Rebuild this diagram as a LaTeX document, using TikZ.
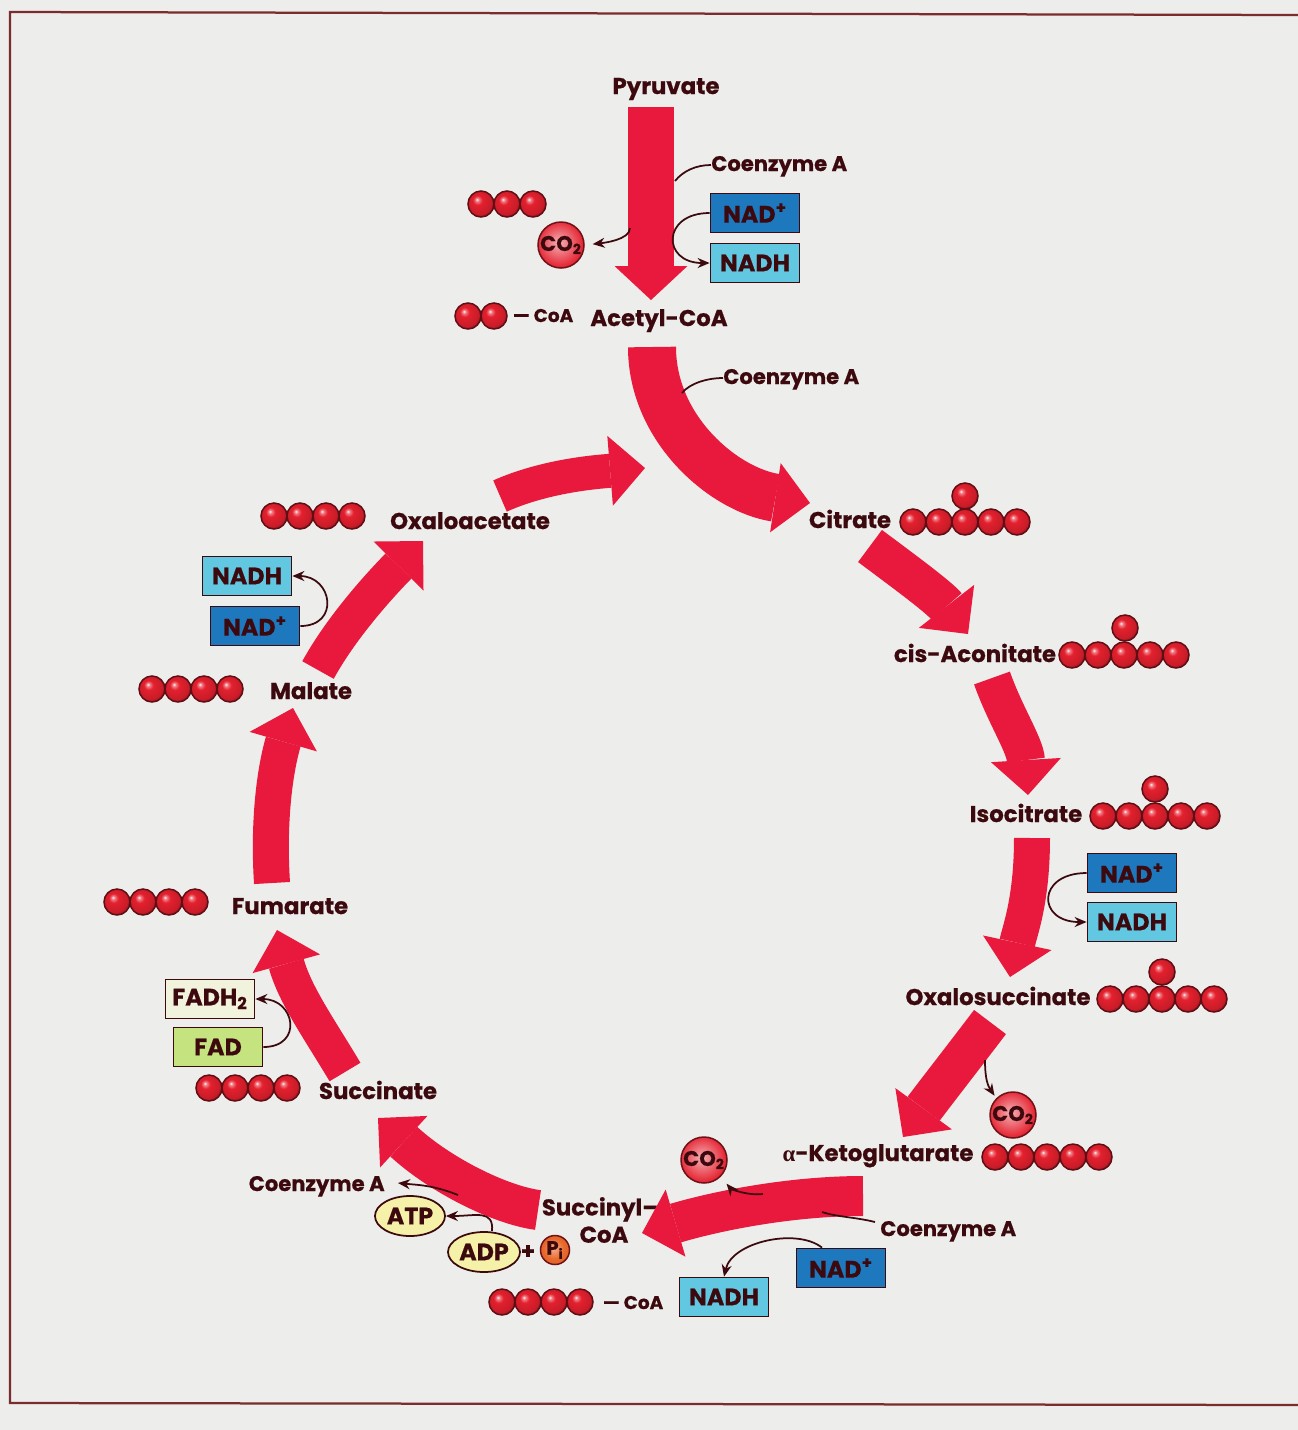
\documentclass[tikz,border=0pt]{standalone}
\usepackage{fontspec}
\setmainfont{Poppins}[BoldFeatures={FakeBold=0.6}]
\newfontfamily\greekfont{Liberation Serif}
\usetikzlibrary{arrows.meta, shapes.geometric, shadings}
\definecolor{krebsbg}{HTML}{EDEDEB}
\definecolor{krebsframe}{HTML}{7B2C2C}
\definecolor{krebsred}{HTML}{E8193C}
\definecolor{krebsink}{HTML}{3C0A0E}
\definecolor{krebsball}{HTML}{E4202E}
\definecolor{nadblue}{HTML}{1E78BE}
\definecolor{nadhcyan}{HTML}{62C8E2}
\definecolor{fadpale}{HTML}{F2F3DC}
\definecolor{fadgreen}{HTML}{C5E37F}
\definecolor{atpyellow}{HTML}{F6F1A8}
\definecolor{piorange}{HTML}{E8682A}

% glossy carbon atoms and gas bubbles
\pgfdeclareradialshading{atomshade}{\pgfqpoint{-8bp}{9bp}}{%
  color(0bp)=(white); color(3bp)=(krebsball!55!white); color(9bp)=(krebsball);
  color(24bp)=(krebsball!88!black); color(30bp)=(krebsball!65!black); color(50bp)=(krebsball!65!black)}
\pgfdeclareradialshading{gasshade}{\pgfqpoint{-3bp}{3bp}}{%
  color(0bp)=(krebsball!35!white); color(14bp)=(krebsball!70!white);
  color(26bp)=(krebsball); color(50bp)=(krebsball)}
\pgfdeclareradialshading{phosshade}{\pgfqpoint{-3bp}{3bp}}{%
  color(0bp)=(piorange!55!white); color(18bp)=(piorange); color(50bp)=(piorange!85!black)}

\tikzset{
  metabase/.style={font=\fontsize{13}{15.5}\selectfont\bfseries, text=krebsink, inner sep=0pt},
  metab/.style={metabase, text height=1.5ex, text depth=.25ex},
  cofac/.style={metab, font=\fontsize{12}{14}\selectfont\bfseries},
  carrier/.style={draw=krebsink, line width=0.35mm, font=\fontsize{13.5}{16}\selectfont\bfseries,
    text=krebsink, minimum width=17.8mm, minimum height=7.8mm, inner sep=0pt},
  nadbox/.style={carrier, fill=nadblue},
  nadhbox/.style={carrier, fill=nadhcyan},
  nrg/.style={ellipse, draw=krebsink, line width=0.35mm, fill=atpyellow, inner sep=0pt,
    minimum width=14.4mm, minimum height=8mm, font=\fontsize{13.5}{16}\selectfont\bfseries, text=krebsink},
  gas/.style={circle, minimum size=9.2mm, inner sep=0pt, shading=gasshade,
    draw=krebsink!70!krebsball, line width=0.3mm, font=\fontsize{12}{14}\selectfont\bfseries, text=krebsink},
  atom/.style={shading=atomshade, draw=krebsink!80!krebsball, line width=0.3mm},
  flow/.style={draw=krebsred, line width=8mm,
    -{Triangle[length=7mm, width=14mm, line width=0pt]}},
  link/.style={draw=krebsink, line width=0.35mm, -{Stealth[length=2.4mm, width=2mm]}},
  tie/.style={draw=krebsink, line width=0.35mm},
}

\begin{document}
\begin{tikzpicture}[x=0.2mm, y=-0.2mm]
  \fill[krebsbg] (0,0) rectangle (1298,1430);
  \useasboundingbox (0,0) rectangle (1298,1430);
  \draw[krebsframe, line width=0.45mm] (1298,15) -- (10,12) -- (10,1403) -- (1298,1405);

  % metabolites round the cycle
  \node[metab] (pyr) at (666,88) {Pyruvate};
  \node[metab] (acoa) at (659,320) {Acetyl-CoA};
  \node[metab] (cit) at (850,522) {Citrate};
  \node[metab] (cisa) at (975,656) {cis-Aconitate};
  \node[metab] (isoc) at (1026,816) {Isocitrate};
  \node[metab] (oxs) at (998,999) {Oxalosuccinate};
  \node[metab] (akg) at (878,1155) {{\greekfont\bfseries α}-Ketoglutarate};
  \node[metabase, align=center] (sccoa) at (600,1220) {Succinyl–\\\hspace*{1.6mm}CoA};
  \node[metab] (succ) at (378,1093) {Succinate};
  \node[metab] (fum) at (290,908) {Fumarate};
  \node[metab] (mal) at (311,693) {Malate};
  \node[metab] (oxa) at (470,523) {Oxaloacetate};
  \coordinate (join) at (645,468);

  % cofactors
  \node[cofac, anchor=west] (coa1) at (711,165) {Coenzyme A};
  \node[cofac, anchor=west] (coa2) at (723,378) {Coenzyme A};
  \node[cofac, anchor=west] (coa3) at (880,1230) {Coenzyme A};
  \node[cofac, anchor=east] (coa4) at (385,1185) {Coenzyme A};
  \node[cofac, font=\fontsize{10.5}{13}\selectfont\bfseries] (tag1) at (543,316) {— CoA};
  \node[cofac, font=\fontsize{10.5}{13}\selectfont\bfseries] (tag2) at (633,1303) {— CoA};
  \node[nadbox] (nad1) at (755,213) {NAD\textsuperscript{+}};
  \node[nadhbox] (nadh1) at (755,263) {NADH};
  \node[nadbox] (nad2) at (1132,873) {NAD\textsuperscript{+}};
  \node[nadhbox] (nadh2) at (1132,922) {NADH};
  \node[nadbox] (nad3) at (841,1268) {NAD\textsuperscript{+}};
  \node[nadhbox] (nadh3) at (724,1297) {NADH};
  \node[nadhbox] (nadh4) at (247,576) {NADH};
  \node[nadbox] (nad4) at (255,626) {NAD\textsuperscript{+}};
  \node[carrier, fill=fadpale] (fadh) at (210,999) {FADH\textsubscript{2}};
  \node[carrier, fill=fadgreen] (fad) at (218,1047) {FAD};
  \node[nrg, minimum width=14mm] (atp) at (410,1216) {ATP};
  \node[nrg] (adp) at (484,1252) {ADP};
  \node[metab] (plus) at (528,1253) {+};
  \node[gas, minimum size=5.8mm, shading=phosshade, font=\fontsize{11}{13}\selectfont\bfseries] (pi) at (555,1250) {P\textsubscript{i}};
  \node[gas] (co2a) at (561,245) {CO\textsubscript{2}};
  \node[gas] (co2b) at (1013,1115) {CO\textsubscript{2}};
  \node[gas] (co2c) at (704,1160) {CO\textsubscript{2}};

  % carbon skeletons
  \foreach \bx/\by/\n in {481/204/3, 468/316/2, 913/522/5, 1072/655/5, 1103/816/5, 1110/999/5,
      995/1157/5, 502/1302/4, 209/1088/4, 117/902/4, 152/689/4, 274/516/4}
    \foreach \i in {1,...,\n}
      \draw[atom] ({\bx+26*(\i-1)},\by) circle[radius=2.6mm];
  \foreach \bx/\by in {965/496, 1125/628, 1155/789, 1162/972}
    \draw[atom] (\bx,\by) circle[radius=2.6mm];

  % main flux
  \draw[flow, line width=9.2mm, -{Triangle[length=6.8mm, width=14.6mm, line width=0pt]}]
    ([shift={(-15,19)}]pyr.center) -- ([shift={(-8,-20)}]acoa.center);
  \draw[flow, line width=9.6mm] ([shift={(-7,27)}]acoa.center)
    .. controls +(0,83) and +(-85,-13) .. ([shift={(-40,-19)}]cit.center);
  \draw[flow] ([shift={(20,24)}]cit.center)
    .. controls +(35,26) and +(-28,-36) .. ([shift={(-7,-22)}]cisa.center);
  \draw[flow, line width=7.6mm] ([shift={(17,22)}]cisa.center)
    .. controls +(13,37) and +(-3,-50) .. ([shift={(2,-21)}]isoc.center);
  \draw[flow, line width=7.2mm] ([shift={(6,22)}]isoc.center)
    .. controls +(0,62) and +(10,-47) .. ([shift={(12,-22)}]oxs.center);
  \draw[flow] ([shift={(-8,23)}]oxs.center)
    .. controls +(-25,33) and +(27,-37) .. ([shift={(25,-18)}]akg.center);
  \draw[flow] ([shift={(-15,41)}]akg.center)
    .. controls +(-70,0) and +(78,-23) .. ([shift={(42,13)}]sccoa.center);
  \draw[flow] ([shift={(-62,-10)}]sccoa.center)
    .. controls +(-38,-5) and +(62,57) .. ([shift={(0,25)}]succ.center);
  \draw[flow, line width=7.2mm] ([shift={(-33,-21)}]succ.center)
    .. controls +(-25,-42) and +(18,65) .. ([shift={(-13,22)}]fum.center);
  \draw[flow, line width=7.2mm] ([shift={(-18,-25)}]fum.center)
    .. controls +(-4,-63) and +(-18,62) .. ([shift={(-18,15)}]mal.center);
  \draw[flow, line width=7.2mm] ([shift={(7,-23)}]mal.center)
    .. controls +(22,-40) and +(-48,49) .. ([shift={(-47,18)}]oxa.center);
  \draw[flow, line width=6.8mm] ([shift={(30,-27)}]oxa.center)
    .. controls +(45,-20) and +(-50,4) .. (join);

  % side reactions
  \draw[tie] (coa1.west) .. controls +(-15,0) and +(8,-10) .. ([shift={(9,93)}]pyr.center);
  \draw[link] (nad1.west) .. controls +(-48,0) and +(-48,0) .. (nadh1.west);
  \draw[link, shorten >=1.6mm] ([shift={(-29,-92)}]acoa.center)
    .. controls +(0,12) and +(18,-2) .. (co2a.east);
  \draw[tie] (coa2.west) .. controls +(-15,0) and +(8,-10) .. ([shift={(23,73)}]acoa.center);
  \draw[link] (nad2.west) .. controls +(-50,0) and +(-50,0) .. (nadh2.west);
  \draw[link, shorten >=0.6mm] ([shift={(-13,61)}]oxs.center)
    .. controls +(0,20) and +(-8,-12) .. (co2b.north west);
  \draw[link, shorten >=1.8mm] ([shift={(-115,39)}]akg.center)
    .. controls +(-15,2) and +(10,12) .. (co2c.south east);
  \draw[tie] ([shift={(-5,-8)}]coa3.west) .. controls +(-20,-5) and +(15,5) .. ([shift={(-56,57)}]akg.center);
  \draw[link] ([shift={(-19,0)}]nad3.north) .. controls +(-25,-20) and +(8,-35) .. (nadh3.north);
  \draw[link] ([shift={(8,0)}]adp.north) .. controls +(2,-22) and +(30,0) .. (atp.east);
  \draw[link] ([shift={(73,10)}]coa4.east) .. controls +(-25,-10) and +(20,2) .. ([shift={(13,-2)}]coa4.east);
  \draw[link] (nad4.east) .. controls +(40,0) and +(40,0) .. (nadh4.east);
  \draw[link] (fad.east) .. controls +(40,0) and +(40,0) .. (fadh.east);
\end{tikzpicture}
\end{document}
